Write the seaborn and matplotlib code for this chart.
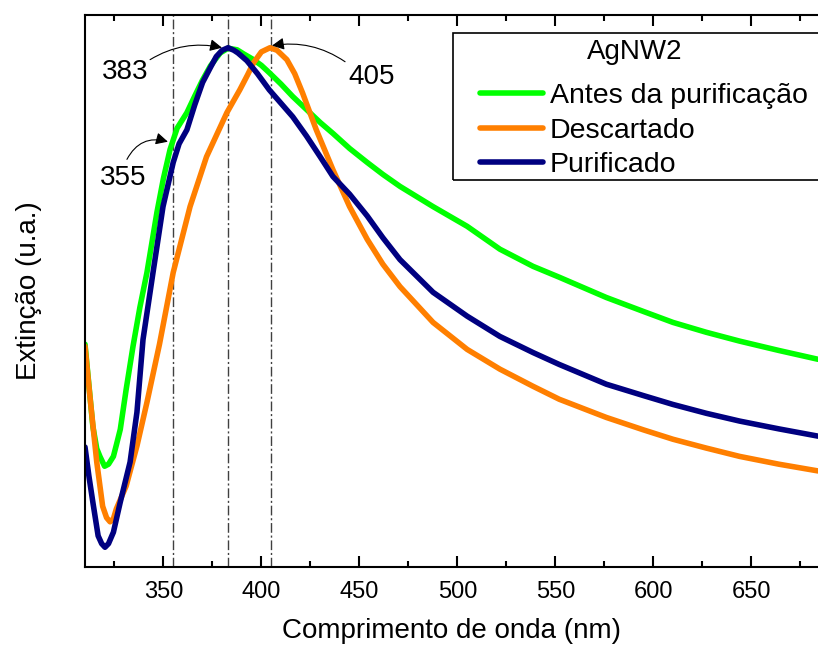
import pandas as pd
import seaborn as sns
import matplotlib.pyplot as plt
from matplotlib.patches import Rectangle

sns.set_style("ticks")
plt.rcParams["font.family"] = ["Liberation Sans", "DejaVu Sans"]
plt.rcParams["text.color"] = "black"
plt.rcParams["axes.labelcolor"] = "black"
plt.rcParams["xtick.color"] = "black"
plt.rcParams["axes.edgecolor"] = "black"

# Extinction spectra (normalised, peak = 1)
wl_antes = [310, 312, 314, 316, 317.6, 320, 322, 324.5, 326, 328, 331, 334.5, 338, 341.6,
            346.7, 350, 353.4, 357, 362, 366, 370, 374, 379, 383, 387.6, 391, 396, 400,
            404, 410, 416, 423, 430, 436.5, 445, 454, 462, 470.7, 487.6, 505, 521.7, 538.6,
            552, 576, 595, 610, 627, 644, 664, 684]
ext_antes = [0.429, 0.350, 0.271, 0.228, 0.213, 0.194, 0.198, 0.213, 0.235, 0.265, 0.342,
             0.425, 0.500, 0.567, 0.683, 0.748, 0.804, 0.845, 0.875, 0.907, 0.938, 0.965,
             0.990, 0.999, 0.996, 0.988, 0.977, 0.966, 0.952, 0.930, 0.906, 0.881, 0.856,
             0.835, 0.806, 0.779, 0.756, 0.733, 0.694, 0.656, 0.612, 0.579, 0.558, 0.519,
             0.492, 0.471, 0.452, 0.435, 0.417, 0.400]

wl_desc = [310, 312.5, 316, 319, 321, 322.8, 324.5, 326, 331, 336.5, 341.6, 348, 355,
           363.6, 372, 382.4, 389, 393, 396, 400, 404.4, 408, 413, 417, 421, 428, 436.5,
           445, 454, 462, 470.7, 487.6, 505, 521.7, 538.6, 552, 576, 595, 610, 627, 644,
           664, 684]
ext_desc = [0.425, 0.329, 0.202, 0.117, 0.095, 0.087, 0.093, 0.112, 0.156, 0.233, 0.317,
            0.429, 0.567, 0.694, 0.790, 0.875, 0.919, 0.948, 0.971, 0.992, 1.000, 0.995,
            0.977, 0.950, 0.913, 0.842, 0.765, 0.694, 0.631, 0.583, 0.540, 0.471, 0.419,
            0.381, 0.348, 0.323, 0.288, 0.264, 0.246, 0.229, 0.213, 0.198, 0.185]

wl_puri = [310, 312, 314, 316.7, 318.5, 320.2, 322, 324.5, 328, 333, 336.5, 339.6, 344.7,
           349.8, 355, 358, 362, 366, 370, 374, 377, 380, 383, 386, 388, 392.6, 398, 404,
           410, 416, 423, 430, 436.5, 445, 454, 462, 470.7, 487.6, 505, 521.7, 538.6, 552,
           576, 595, 610, 627, 644, 664, 684]
ext_puri = [0.231, 0.175, 0.125, 0.060, 0.045, 0.038, 0.045, 0.067, 0.125, 0.202, 0.298,
            0.438, 0.567, 0.694, 0.779, 0.815, 0.842, 0.890, 0.933, 0.962, 0.983, 0.995,
            1.000, 0.995, 0.990, 0.975, 0.950, 0.919, 0.893, 0.867, 0.830, 0.790, 0.752,
            0.718, 0.676, 0.634, 0.592, 0.529, 0.483, 0.444, 0.413, 0.390, 0.352, 0.330,
            0.313, 0.296, 0.281, 0.266, 0.252]

labels = ["Antes da purificação", "Descartado", "Purificado"]
colors = ["#00ff00", "#ff7f00", "#000080"]
peaks = [355, 383, 405]

df = pd.concat([
    pd.DataFrame({"wl": wl_antes, "ext": ext_antes, "amostra": labels[0]}),
    pd.DataFrame({"wl": wl_desc, "ext": ext_desc, "amostra": labels[1]}),
    pd.DataFrame({"wl": wl_puri, "ext": ext_puri, "amostra": labels[2]}),
])

fig = plt.figure(figsize=(8.18, 6.48), dpi=100)
ax = fig.add_axes([85 / 818, 1 - 567 / 648, 1 - 85 / 818, (567 - 15) / 648])

sns.lineplot(data=df, x="wl", y="ext", hue="amostra", hue_order=labels,
             palette=dict(zip(labels, colors)), estimator=None, sort=True,
             linewidth=4, ax=ax)

for p in peaks:
    ax.axvline(p, color="#404040", lw=1, ls=(0, (7, 2, 1.5, 2)), zorder=1)

ax.set_xlim(310, 684)
ax.set_ylim(0, 1.063)
ax.set_xticks([350, 400, 450, 500, 550, 600, 650])
ax.set_xticks([325, 375, 425, 475, 525, 575, 625, 675], minor=True)
ax.set_yticks([])
ax.tick_params(axis="x", which="both", direction="in", top=True, labelsize=17,
               pad=10, width=1.5, colors="black")
ax.tick_params(axis="x", which="major", length=8)
ax.tick_params(axis="x", which="minor", length=4)
for s in ["left", "bottom", "top"]:
    ax.spines[s].set_linewidth(1.5)
ax.spines["right"].set_visible(False)

ax.set_xlabel("Comprimento de onda (nm)", fontsize=20)
ax.set_ylabel("Extinção (u.a.)", fontsize=20)
ax.xaxis.set_label_coords(0.5, -0.092)
ax.yaxis.set_label_coords(-0.058, 0.5)

# peak annotations
arrow = dict(arrowstyle="-|>", color="black", lw=0.8, mutation_scale=18,
             shrinkA=0, shrinkB=0)
ax.annotate("", xy=(379.9, 1.0), xytext=(343.2, 0.977),
            arrowprops=dict(arrow, connectionstyle="arc3,rad=-0.2"))
ax.text(330.4, 0.954, "383", fontsize=20, ha="center", va="center")
ax.annotate("", xy=(405.4, 1.004), xytext=(442.7, 0.973),
            arrowprops=dict(arrow, connectionstyle="arc3,rad=0.2"))
ax.text(456.4, 0.944, "405", fontsize=20, ha="center", va="center")
ax.annotate("", xy=(352.3, 0.819), xytext=(331.4, 0.785),
            arrowprops=dict(arrow, connectionstyle="arc3,rad=-0.4"))
ax.text(329.4, 0.75, "355", fontsize=20, ha="center", va="center")

# legend with its own frame
handles, labs = ax.get_legend_handles_labels()
ax.legend(handles, labs, loc="upper left", bbox_to_anchor=((480 - 85) / 733, (567 - 83) / 552),
          frameon=False, fontsize=20.5, handlelength=2.2, handletextpad=0.25,
          labelspacing=0.3, borderpad=0, borderaxespad=0)
ax.add_patch(Rectangle(((453 - 85) / 733, (567 - 180) / 552), 0.6, (180 - 33) / 552,
                       transform=ax.transAxes, fill=False, ec="black", lw=1.2,
                       clip_on=False, zorder=5))
ax.text((635 - 85) / 733, (567 - 52) / 552, "AgNW2", transform=ax.transAxes,
        fontsize=20, ha="center", va="center")

fig.savefig("out.png", dpi=100)
plt.close()
